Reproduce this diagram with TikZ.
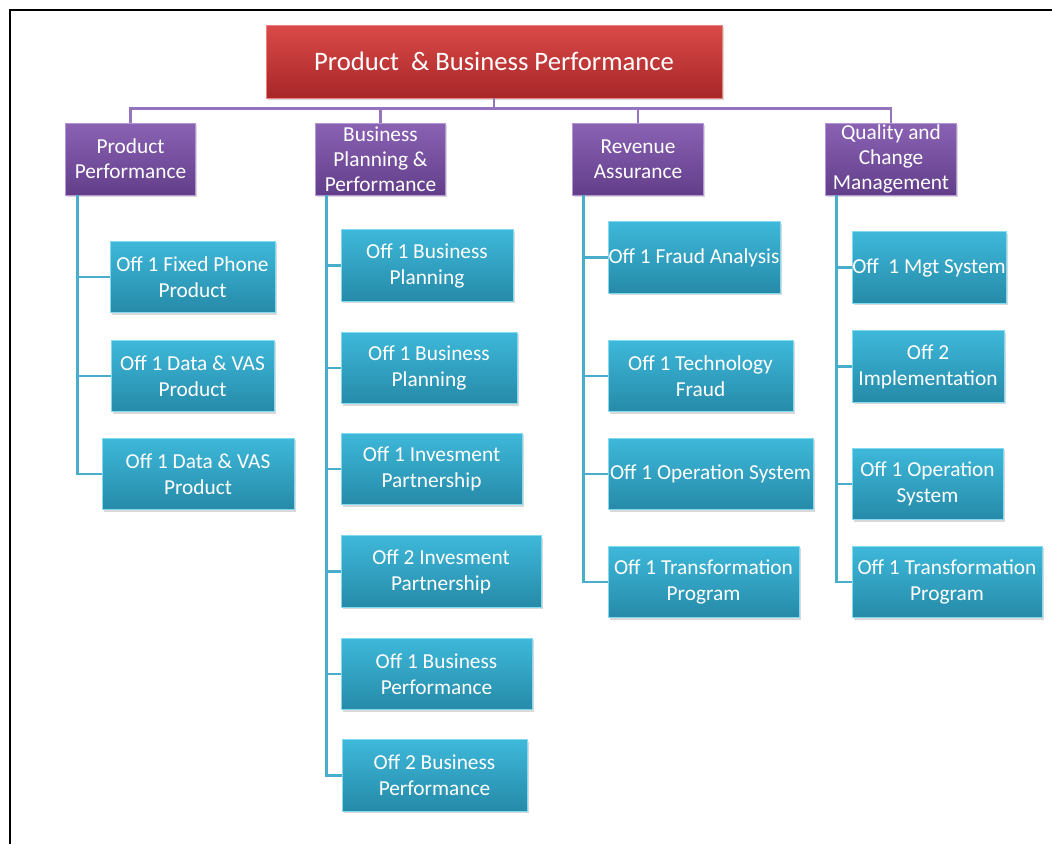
\documentclass[tikz,border=0pt]{standalone}
\usepackage{fontspec}
\setmainfont{Carlito}
\usetikzlibrary{shadows}

\definecolor{roottop}{RGB}{218,74,72}
\definecolor{rootbottom}{RGB}{168,38,40}
\definecolor{rootedge}{RGB}{236,130,125}
\definecolor{grouptop}{RGB}{138,98,180}
\definecolor{groupbottom}{RGB}{98,62,138}
\definecolor{groupedge}{RGB}{180,150,215}
\definecolor{offtop}{RGB}{62,184,218}
\definecolor{offbottom}{RGB}{38,138,168}
\definecolor{offedge}{RGB}{130,218,240}
\definecolor{linkpurple}{RGB}{148,116,188}
\definecolor{linkcyan}{RGB}{72,174,204}

\tikzset{
  boxbase/.style={inner sep=0pt, align=center, text=white, line width=0.6pt,
    drop shadow={shadow xshift=1.2pt, shadow yshift=-1.5pt, opacity=0.3}},
  rootbox/.style={boxbase, top color=roottop, bottom color=rootbottom, draw=rootedge,
    minimum width=342pt, minimum height=54.75pt, font=\fontsize{20}{24}\selectfont},
  groupbox/.style={boxbase, top color=grouptop, bottom color=groupbottom, draw=groupedge,
    minimum width=98pt, minimum height=54pt, font=\fontsize{16}{18.9}\selectfont},
  offbox/.style={boxbase, top color=offtop, bottom color=offbottom, draw=offedge,
    minimum height=53.6pt, font=\fontsize{16}{19.5}\selectfont},
  grouplink/.style={draw=linkpurple, line width=2pt},
  offlink/.style={draw=linkcyan, line width=2pt}
}

\begin{document}
\begin{tikzpicture}[x=0.75pt,y=-0.75pt]
  \useasboundingbox (0,0) rectangle (1052,844);
  \draw[line width=1.5pt] (10,844) -- (10,10) -- (1052,10);

  % top and groups
  \node[rootbox] (root) at (494,61.5) {Product~ \& Business Performance};
  \node[groupbox] (pp) at (130.5,159) {Product\\Performance};
  \node[groupbox] (bpp) at (380.5,159) {Business\\Planning \&\\Performance};
  \node[groupbox] (ra) at (638,159) {Revenue\\Assurance};
  \node[groupbox] (qcm) at (891,159) {Quality and\\Change\\Management};

  % product performance
  \node[offbox, minimum width=123.75pt] (pp1) at (192.5,277) {Off 1 Fixed Phone\\Product};
  \node[offbox, minimum width=122.25pt] (pp2) at (192.5,376) {Off 1 Data \& VAS\\Product};
  \node[offbox, minimum width=144pt] (pp3) at (198,474) {Off 1 Data \& VAS\\Product};

  % business planning
  \node[offbox, minimum width=129pt] (bp1) at (427,265.5) {Off 1 Business\\Planning};
  \node[offbox, minimum width=132pt] (bp2) at (429,368) {Off 1 Business\\Planning};
  \node[offbox, minimum width=135.75pt] (bp3) at (431.5,469) {Off 1 Invesment\\Partnership};
  \node[offbox, minimum width=150pt] (bp4) at (441,571.5) {Off 2 Invesment\\Partnership};
  \node[offbox, minimum width=143.25pt] (bp5) at (436.5,674) {Off 1 Business\\Performance};
  \node[offbox, minimum width=138.75pt] (bp6) at (434.5,775.5) {Off 2 Business\\Performance};

  % revenue assurance
  \node[offbox, minimum width=129pt] (ra1) at (694,257.5) {Off 1 Fraud Analysis};
  \node[offbox, minimum width=138.75pt] (ra2) at (700.5,376) {Off 1 Technology\\Fraud};
  \node[offbox, minimum width=153.75pt] (ra3) at (710.5,474) {Off 1 Operation System};
  \node[offbox, minimum width=143.25pt] (ra4) at (703.5,582) {Off 1 Transformation\\Program};

  % quality and change
  \node[offbox, minimum width=115.5pt] (q1) at (929,267.5) {Off~ 1 Mgt System};
  \node[offbox, minimum width=114pt] (q2) at (928,366.5) {Off 2\\Implementation};
  \node[offbox, minimum width=113.25pt] (q3) at (927.5,484) {Off 1 Operation\\System};
  \node[offbox, minimum width=142.5pt] (q4) at (947,582) {Off 1 Transformation\\Program};

  % connectors
  \foreach \g in {pp,bpp,ra,qcm}
    \draw[grouplink] (root.south) -- ++(0,10) -| (\g.north);
  \foreach \c in {pp1,pp2,pp3}
    \draw[offlink] (pp.south west) ++(13,0) |- (\c.west);
  \foreach \c in {bp1,bp2,bp3,bp4,bp5,bp6}
    \draw[offlink] (bpp.south west) ++(12,0) |- (\c.west);
  \foreach \c in {ra1,ra2,ra3,ra4}
    \draw[offlink] (ra.south west) ++(11,0) |- (\c.west);
  \foreach \c in {q1,q2,q3,q4}
    \draw[offlink] (qcm.south west) ++(11,0) |- (\c.west);
\end{tikzpicture}
\end{document}
